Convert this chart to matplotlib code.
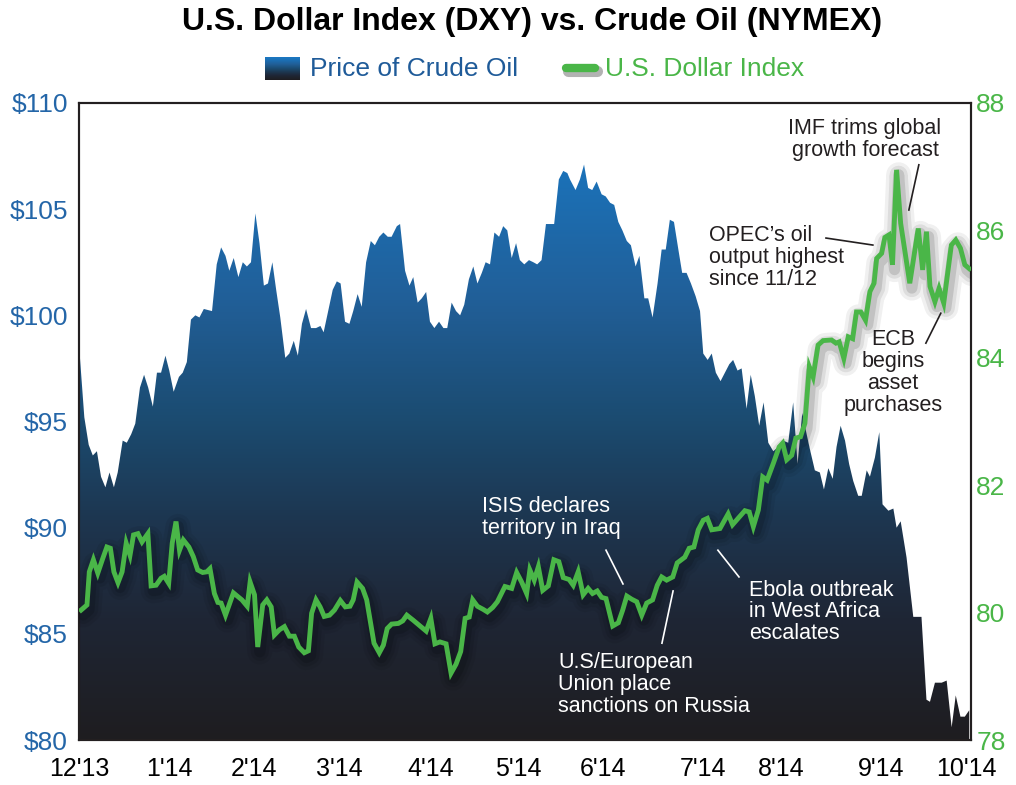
import numpy as np
import matplotlib
matplotlib.use('Agg')
import matplotlib.pyplot as plt
import matplotlib.patheffects as pe
from matplotlib.colors import LinearSegmentedColormap
from matplotlib.lines import Line2D

# days counted from 1 Dec 2013
oil_day = [1.1, 2.8, 4.3, 5.7, 7.1, 8.5, 10.0, 11.4, 12.9, 14.2, 15.9, 17.3, 18.8, 20.2, 21.8, 23.2,
           24.6, 26.2, 27.6, 29.0, 30.5, 31.8, 33.3, 35.1, 36.4, 37.8, 39.2, 40.7, 42.1, 43.6, 46.4,
           48.0, 49.5, 51.0, 52.3, 53.8, 55.4, 56.9, 58.3, 59.7, 61.2, 62.6, 64.1, 65.5, 67.0, 68.3,
           69.7, 71.4, 72.8, 74.3, 75.7, 77.1, 78.5, 80.2, 81.9, 83.4, 84.5, 87.6, 89.0, 90.3, 91.8,
           93.3, 94.6, 96.1, 97.5, 99.0, 100.6, 102.0, 103.5, 104.9, 106.4, 107.7, 109.5, 110.6, 112.3,
           113.8, 115.1, 116.6, 118.0, 119.5, 120.8, 122.3, 123.9, 125.4, 126.7, 128.2, 129.7, 131.1,
           132.5, 134.1, 135.6, 137.0, 138.5, 139.8, 141.3, 142.8, 144.4, 145.8, 147.2, 148.7, 150.2,
           151.5, 153.0, 154.6, 156.1, 157.4, 158.9, 160.4, 161.8, 163.2, 164.8, 166.3, 167.7, 168.6,
           170.5, 172.0, 173.4, 174.8, 176.2, 177.7, 179.4, 180.8, 182.3, 183.7, 185.1, 186.5, 188.0,
           189.4, 191.0, 192.3, 194.0, 195.3, 196.8, 198.5, 199.9, 201.3, 202.7, 204.1, 205.6, 206.9,
           208.4, 209.9, 211.5, 213.0, 214.1, 215.6, 217.0, 218.4, 220.0, 221.5, 223.0, 224.3, 225.8,
           227.2, 228.9, 230.3, 231.7, 233.2, 234.7, 236.3, 238.0, 239.7, 241.4, 243.1, 244.8, 246.3,
           247.9, 249.4, 250.5, 252.2, 253.9, 255.3, 256.8, 258.3, 259.6, 261.0, 262.5, 263.9, 265.3,
           267.0, 268.2, 269.9, 271.0, 272.7, 274.2, 275.3, 277.3, 279.0, 280.1, 281.5, 283.5, 285.8,
           288.6, 290.3, 291.5, 293.2, 295.5, 297.2, 298.9, 300.3, 301.9, 303.4, 304.9]
oil_price = [98.4, 95.2, 93.9, 93.4, 93.6, 92.4, 91.9, 92.6, 91.9, 92.6, 94.1, 94.0, 94.4, 94.9, 96.6, 97.2,
             96.6, 95.7, 97.3, 97.3, 98.1, 97.4, 96.4, 97.1, 97.3, 97.8, 99.8, 100.0, 99.9, 100.3, 100.2,
             102.4, 103.2, 102.8, 102.1, 102.7, 101.8, 102.5, 102.3, 102.5, 104.8, 103.4, 101.4, 101.5, 102.5, 101.2,
             99.9, 98.0, 98.2, 98.8, 98.1, 99.6, 100.3, 99.4, 99.4, 99.5, 99.2, 101.2, 101.6, 101.5, 99.7,
             99.6, 100.2, 101.0, 100.4, 102.5, 103.5, 103.3, 103.7, 103.9, 103.7, 103.7, 104.2, 104.3, 102.1,
             101.4, 101.8, 100.6, 100.8, 101.1, 99.7, 99.4, 99.7, 99.4, 99.4, 100.6, 100.2, 100.0,
             100.5, 101.7, 102.3, 101.5, 102.0, 102.5, 102.4, 103.9, 103.7, 104.2, 104.0, 102.7, 103.4,
             102.6, 102.4, 102.6, 102.5, 102.4, 102.6, 104.3, 104.3, 104.3, 106.4, 106.8, 106.7, 106.4,
             105.9, 106.4, 107.1, 106.0, 105.9, 106.3, 105.7, 105.6, 105.3, 105.2, 104.4, 104.0, 103.5,
             103.3, 102.3, 102.8, 100.8, 100.8, 99.9, 101.5, 103.1, 103.1, 104.5, 104.4, 103.1, 102.0,
             102.0, 101.5, 100.9, 100.2, 98.2, 97.9, 98.2, 97.3, 96.9, 97.3, 97.7, 97.9, 97.4,
             97.5, 95.6, 97.2, 96.2, 94.8, 95.9, 94.0, 93.6, 93.8, 94.1, 94.0, 95.9, 93.0,
             95.4, 94.4, 93.7, 92.7, 92.6, 91.8, 92.8, 92.3, 93.8, 94.8, 94.1, 93.0, 92.2,
             91.5, 91.5, 92.7, 92.4, 93.3, 94.5, 91.1, 90.8, 90.9, 90.0, 90.3, 88.6, 85.8,
             85.8, 81.9, 81.8, 82.7, 82.7, 82.8, 80.6, 82.1, 81.1, 81.1, 81.4]

dxy_day = [1.7, 3.7, 4.5, 5.9, 7.4, 9.1, 10.5, 11.7, 12.9, 14.3, 15.7, 17.1, 18.4, 19.6, 21.1, 22.5, 24.5,
           25.6, 27.3, 29.0, 30.1, 31.6, 32.8, 34.1, 35.3, 36.6, 38.5, 40.0, 41.5, 43.2, 44.6, 45.7,
           47.2, 48.4, 49.5, 51.0, 53.7, 56.6, 58.4, 59.4, 60.9, 62.0, 63.7, 65.1, 66.6, 67.7, 69.4,
           71.1, 72.8, 74.5, 76.0, 77.9, 79.3, 80.4, 81.9, 83.3, 84.7, 86.5, 88.2, 90.2, 91.9, 93.5,
           94.6, 95.9, 97.8, 99.2, 100.3, 101.7, 103.5, 104.9, 106.2, 107.7, 110.0, 111.5, 112.9,
           115.1, 117.4, 119.5, 121.1, 122.5, 124.2, 126.3, 128.0, 129.7, 131.3, 132.8, 134.2, 135.4,
           137.0, 139.0, 140.4, 142.2, 143.8, 146.4, 148.7, 150.4, 152.1, 153.8, 154.9, 156.4, 157.8,
           159.3, 161.2, 163.1, 164.8, 166.3, 168.3, 169.7, 171.4, 173.1, 174.8, 176.3, 177.9, 179.4,
           180.9, 183.2, 185.1, 186.6, 188.0, 189.7, 191.4, 193.1, 194.8, 196.8, 198.4, 199.9, 201.6,
           203.7, 205.2, 207.8, 209.3, 210.9, 212.4, 214.1, 215.5, 217.0, 219.8, 222.6, 224.1, 226.0,
           228.3, 229.8, 231.2, 232.9, 234.4, 235.9, 238.0, 240.0, 241.2, 242.6, 244.3, 245.7, 247.3,
           248.8, 250.3, 251.6, 253.3, 255.0, 257.9, 259.4, 260.5, 262.1, 263.6, 265.1, 266.4, 267.9,
           269.5, 271.0, 272.4, 273.3, 275.0, 276.1, 277.5, 278.7, 280.1, 281.5, 282.9, 284.6, 286.0,
           287.5, 289.0, 290.3, 291.5, 293.2, 294.6, 296.2, 297.7, 298.8, 300.3, 301.9, 303.4, 304.9]
dxy_value = [80.04, 80.12, 80.64, 80.83, 80.62, 80.85, 81.03, 81.01, 80.64, 80.47, 80.64, 81.09, 80.90, 81.22,
             81.24, 81.11, 81.24, 80.42, 80.43, 80.54, 80.57, 80.46, 81.09, 81.43, 80.98, 81.14, 81.03,
             80.88, 80.67, 80.63, 80.64, 80.69, 80.30, 80.16, 80.15, 79.96, 80.31, 80.20, 80.10, 80.48,
             80.28, 79.46, 80.12, 80.20, 80.09, 79.65, 79.73, 79.78, 79.63, 79.63, 79.46, 79.37, 79.40,
             79.99, 80.20, 80.09, 79.94, 79.96, 80.04, 80.19, 80.09, 80.10, 80.20, 80.48, 80.38, 80.20,
             79.90, 79.52, 79.37, 79.49, 79.75, 79.82, 79.83, 79.87, 79.96, 79.88, 79.79, 79.71, 79.91,
             79.51, 79.54, 79.51, 79.05, 79.19, 79.39, 79.91, 79.93, 80.20, 80.10, 80.05, 80.01, 80.08,
             80.17, 80.41, 80.38, 80.63, 80.48, 80.30, 80.67, 80.51, 80.72, 80.35, 80.42, 80.83, 80.80,
             80.55, 80.52, 80.43, 80.64, 80.28, 80.38, 80.30, 80.34, 80.24, 80.22, 79.79, 79.84, 80.04,
             80.26, 80.21, 80.17, 79.96, 80.15, 80.20, 80.43, 80.56, 80.51, 80.56, 80.78, 80.87, 81.01,
             81.03, 81.30, 81.45, 81.48, 81.30, 81.32, 81.55, 81.38, 81.48, 81.60, 81.58, 81.35, 81.61,
             82.13, 82.08, 82.34, 82.60, 82.66, 82.40, 82.47, 82.74, 82.76, 82.97, 83.86, 83.70, 84.20,
             84.27, 84.28, 84.23, 84.25, 83.99, 84.33, 84.30, 84.72, 84.72, 84.59, 85.04, 85.17, 85.56,
             85.64, 85.89, 85.93, 85.46, 86.95, 86.11, 85.69, 85.17, 85.59, 86.03, 85.38, 85.98, 85.12,
             84.88, 85.09, 84.86, 85.38, 85.77, 85.85, 85.72, 85.46, 85.40]

tick_days = [1, 32, 60.8, 90, 121, 151, 180, 214, 240.6, 274.7, 303.8]
tick_labels = ["12'13", "1'14", "2'14", "3'14", "4'14", "5'14", "6'14", "7'14", "8'14", "9'14", "10'14"]
oil_ticks = [80, 85, 90, 95, 100, 105, 110]
dxy_ticks = [78, 80, 82, 84, 86, 88]

blue = '#2466a8'
green = '#4ab648'
dark = '#231f20'
plt.rcParams['font.family'] = ['Liberation Sans', 'DejaVu Sans']

fig = plt.figure(figsize=(10.16, 7.85), dpi=100)
ax = fig.add_axes([0.0778, 0.0573, 0.8776, 0.8115])
ax.set_xlim(1.0, 305.4)
ax.set_ylim(80, 110)

# vertical gradient, clipped to the area under the oil curve
cmap = LinearSegmentedColormap.from_list('oil', [(0.0, '#1e1d20'), (0.19, '#1f2635'), (0.345, '#1d3650'),
                                                 (0.5, '#1b4b70'), (0.69, '#215f98'), (0.9, '#1b72b9'),
                                                 (1.0, '#1b78c2')])
grad = np.linspace(0, 1, 256).reshape(-1, 1)
area = ax.fill_between(oil_day, oil_price, 80, facecolor='none', edgecolor='none')
im = ax.imshow(grad, extent=[1.0, 305.4, 80, 110], origin='lower', aspect='auto', cmap=cmap, zorder=1)
im.set_clip_path(area.get_paths()[0], transform=ax.transData)

ax.set_xticks(tick_days)
ax.set_xticklabels(tick_labels, fontsize=18, color='black')
ax.set_yticks(oil_ticks)
ax.set_yticklabels(['$%d' % v for v in oil_ticks], fontsize=19, color=blue)
ax.tick_params(axis='x', length=0, pad=12)
ax.tick_params(axis='y', length=0, pad=8)

ax2 = ax.twinx()
ax2.set_ylim(78, 88)
ax2.set_yticks(dxy_ticks)
ax2.set_yticklabels([str(v) for v in dxy_ticks], fontsize=19, color=green)
ax2.tick_params(axis='y', length=0, pad=4)

shadow = [pe.SimpleLineShadow(offset=(1.5, -3.5), shadow_color='black', alpha=a, linewidth=w,
                              joinstyle='round', capstyle='round')
          for a, w in [(0.06, 18), (0.08, 13), (0.12, 8)]] + [pe.Normal()]
ax2.plot(dxy_day, dxy_value, color=green, lw=3.5, solid_joinstyle='miter', zorder=5, path_effects=shadow)

for a in (ax, ax2):
    for s in a.spines.values():
        s.set_color(dark)
        s.set_linewidth(1.5)

# annotations
note = dict(fontsize=15.5, linespacing=1.05, zorder=6)
ax2.text(269.3, 87.43, 'IMF trims global\ngrowth forecast', ha='center', va='center', color=dark, **note)
ax2.plot([287.7, 284.3], [87.03, 86.32], color=dark, lw=1.2, zorder=6)
ax2.text(216.0, 85.57, 'OPEC\u2019s oil\noutput highest\nsince 11/12', ha='left', va='center', color=dark, **note)
ax2.plot([256.0, 272.0], [85.88, 85.77], color=dark, lw=1.2, zorder=6)
ax2.text(278.8, 83.77, 'ECB\nbegins\nasset\npurchases', ha='center', va='center', color=dark, **note)
ax2.plot([290.1, 295.2], [84.23, 84.70], color=dark, lw=1.2, zorder=6)
ax2.text(138.5, 81.49, 'ISIS declares\nterritory in Iraq', ha='left', va='center', color='white', **note)
ax2.plot([180.9, 186.7], [80.98, 80.45], color='white', lw=1.2, zorder=6)
ax2.text(164.6, 78.87, 'U.S/European\nUnion place\nsanctions on Russia', ha='left', va='center', color='white', **note)
ax2.plot([203.8, 200.0], [80.34, 79.52], color='white', lw=1.2, zorder=6)
ax2.text(229.7, 80.01, 'Ebola outbreak\nin West Africa\nescalates', ha='left', va='center', color='white', **note)
ax2.plot([219.1, 226.3], [80.98, 80.56], color='white', lw=1.2, zorder=6)

# title and legend
fig.text(0.5235, 0.972, 'U.S. Dollar Index (DXY) vs. Crude Oil (NYMEX)', ha='center', va='center',
         fontsize=23, fontweight='bold')
icon = fig.add_axes([265 / 1016, 1 - 80 / 785, 35 / 1016, 23 / 785])
icon.imshow(grad, origin='lower', aspect='auto', cmap=cmap)
icon.set_axis_off()
fig.text(310 / 1016, 1 - 69 / 785, 'Price of Crude Oil', ha='left', va='center', fontsize=19,
         color='#1f5b99')
icon_shadow = [pe.SimpleLineShadow(offset=(1.5, -2), shadow_color='black', alpha=0.3, linewidth=8),
               pe.Normal()]
fig.add_artist(Line2D([566 / 1016, 595 / 1016], [1 - 68 / 785, 1 - 68 / 785], color=green, lw=6,
                      solid_capstyle='round', path_effects=icon_shadow))
fig.text(605 / 1016, 1 - 69 / 785, 'U.S. Dollar Index', ha='left', va='center', fontsize=19,
         color=green)

fig.savefig('out.png', dpi=100)
